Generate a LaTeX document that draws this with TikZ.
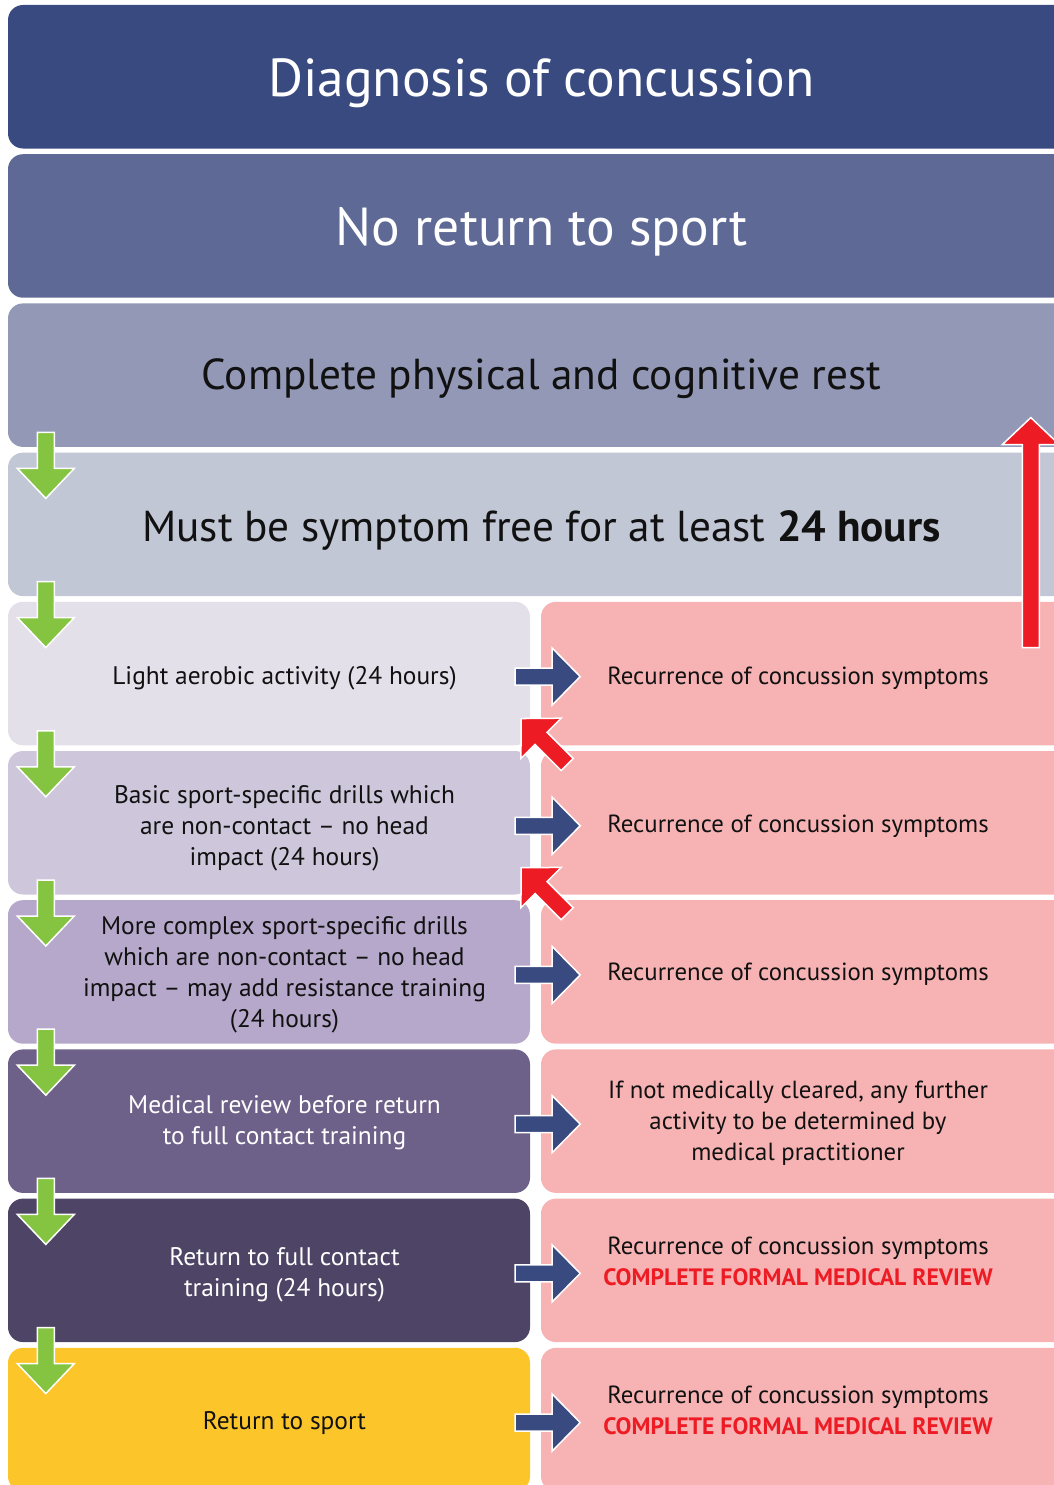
\documentclass[tikz,border=0pt]{standalone}
\usepackage{fontspec}
\setmainfont{PT Sans}
\usetikzlibrary{calc}
\definecolor{cA}{HTML}{394A80}
\definecolor{cB}{HTML}{5F6996}
\definecolor{cC}{HTML}{9298B6}
\definecolor{cD}{HTML}{C2C7D6}
\definecolor{cE}{HTML}{E4E0EA}
\definecolor{cF}{HTML}{CEC7DB}
\definecolor{cG}{HTML}{B5A8CA}
\definecolor{cH}{HTML}{6E6189}
\definecolor{cI}{HTML}{4E4465}
\definecolor{cJ}{HTML}{FCC62B}
\definecolor{cPink}{HTML}{F7B3B4}
\definecolor{cGreen}{HTML}{84C441}
\definecolor{cRed}{HTML}{ED1C24}
\definecolor{cTxt}{HTML}{111111}
\tikzset{
  fullbox/.style={rectangle, rounded corners=15pt, minimum width=1067pt, minimum height=143.5pt, inner sep=0pt},
  leftbox/.style={rectangle, rounded corners=15pt, minimum width=522pt, minimum height=143.5pt, inner sep=0pt},
  rightbox/.style={rectangle, rounded corners=15pt, minimum width=534pt, minimum height=143.5pt, inner sep=0pt, fill=cPink},
  bigtxt/.style={font=\fontsize{53.5}{60}\selectfont, inner sep=0pt},
  midtxt/.style={font=\fontsize{43.3}{50}\selectfont, inner sep=0pt, text=cTxt},
  smalltxt/.style={font=\fontsize{25.4}{31}\selectfont, inner sep=0pt, align=center, text=cTxt},
  righttxt/.style={font=\fontsize{24.8}{31}\selectfont, inner sep=0pt, align=center, text=cTxt},
  pics/barrow/.style n args={3}{code={
    \fill[#1, draw=white, line width=1.5pt] (0,-8.5) -- ({#2-#3},-8.5) -- ({#2-#3},-28.5) -- (#2,0) -- ({#2-#3},28.5) -- ({#2-#3},8.5) -- (0,8.5) -- cycle;
  }}
}
\newcommand{\redreview}{{\fontsize{23.7}{33}\selectfont\color{cRed}\bfseries COMPLETE FORMAL MEDICAL REVIEW}}
\begin{document}
\begin{tikzpicture}[x=1pt,y=-1pt]
\useasboundingbox (0,0) rectangle (1054,1485);
\clip (0,0) rectangle (1054,1485);
% full-width rows
\node[fullbox, fill=cA] (r1) at (541.5,76.75) {};
\node[fullbox, fill=cB] (r2) at (541.5,225.95) {};
\node[fullbox, fill=cC] (r3) at (541.5,375.15) {};
\node[fullbox, fill=cD] (r4) at (541.5,524.35) {};
% left boxes
\node[leftbox, fill=cE] (l5) at (269,673.55) {};
\node[leftbox, fill=cF] (l6) at (269,822.75) {};
\node[leftbox, fill=cG] (l7) at (269,971.95) {};
\node[leftbox, fill=cH] (l8) at (269,1121.15) {};
\node[leftbox, fill=cI] (l9) at (269,1270.35) {};
\node[leftbox, fill=cJ] (l10) at (269,1419.55) {};
% right boxes
\node[rightbox] (rt5) at (808,673.55) {};
\node[rightbox] (rt6) at (808,822.75) {};
\node[rightbox] (rt7) at (808,971.95) {};
\node[rightbox] (rt8) at (808,1121.15) {};
\node[rightbox] (rt9) at (808,1270.35) {};
\node[rightbox] (rt10) at (808,1419.55) {};
% texts
\node[bigtxt, text=white] (t1) at ($(r1.center)+(0,6)$) {Diagnosis of concussion};
\node[bigtxt, text=white] (t2) at ($(r2.center)+(0,6)$) {No return to sport};
\node[midtxt] (t3) at ($(r3.center)+(0,4)$) {Complete physical and cognitive rest};
\node[midtxt] (t4) at ($(r4.center)+(0,6)$) {Must be symptom free for at least \textbf{24 hours}};
\node[smalltxt] (tl5) at ($(l5.center)+(15.5,5)$) {Light aerobic activity (24 hours)};
\node[smalltxt] (tl6) at ($(l6.center)+(15.5,5.5)$) {Basic sport-specific drills which\\are non-contact – no head\\impact (24 hours)};
\node[smalltxt] (tl7) at ($(l7.center)+(15.5,3)$) {More complex sport-specific drills\\which are non-contact – no head\\impact – may add resistance training\\(24 hours)};
\node[smalltxt, text=white] (tl8) at ($(l8.center)+(15.5,2)$) {Medical review before return\\to full contact training};
\node[smalltxt, text=white] (tl9) at ($(l9.center)+(15.5,4)$) {Return to full contact\\training (24 hours)};
\node[smalltxt] (tl10) at ($(l10.center)+(15.5,3)$) {Return to sport};
\node[righttxt] (tr5) at ($(rt5.center)+(-10,5)$) {Recurrence of concussion symptoms};
\node[righttxt] (tr6) at ($(rt6.center)+(-10,4)$) {Recurrence of concussion symptoms};
\node[righttxt] (tr7) at ($(rt7.center)+(-10,2)$) {Recurrence of concussion symptoms};
\node[righttxt] (tr8) at ($(rt8.center)+(-10,2)$) {If not medically cleared, any further\\activity to be determined by\\medical practitioner};
\node[righttxt] (tr9) at ($(rt9.center)+(-10,-9)$) {Recurrence of concussion symptoms\\\redreview};
\node[righttxt] (tr10) at ($(rt10.center)+(-10,-9)$) {Recurrence of concussion symptoms\\\redreview};
% green down arrows
\foreach \r in {r4,l5,l6,l7,l8,l9,l10}
  \pic[rotate=-90] at ($(\r.north west)+(38,-20)$) {barrow={cGreen}{66}{30}};
% blue right arrows
\foreach \r in {l5,l6,l7,l8,l9,l10}
  \pic at ($(\r.east)+(-15,3)$) {barrow={cA}{65}{28}};
% red diagonal arrows
\foreach \r in {l5,l6}
  \pic[rotate=135] at ($(\r.south east)+(37,19)$) {barrow={cRed}{65}{28}};
% red vertical arrow
\pic[rotate=90] at ($(rt5.north west)+(490,46)$) {barrow={cRed}{230}{27}};
\end{tikzpicture}
\end{document}
